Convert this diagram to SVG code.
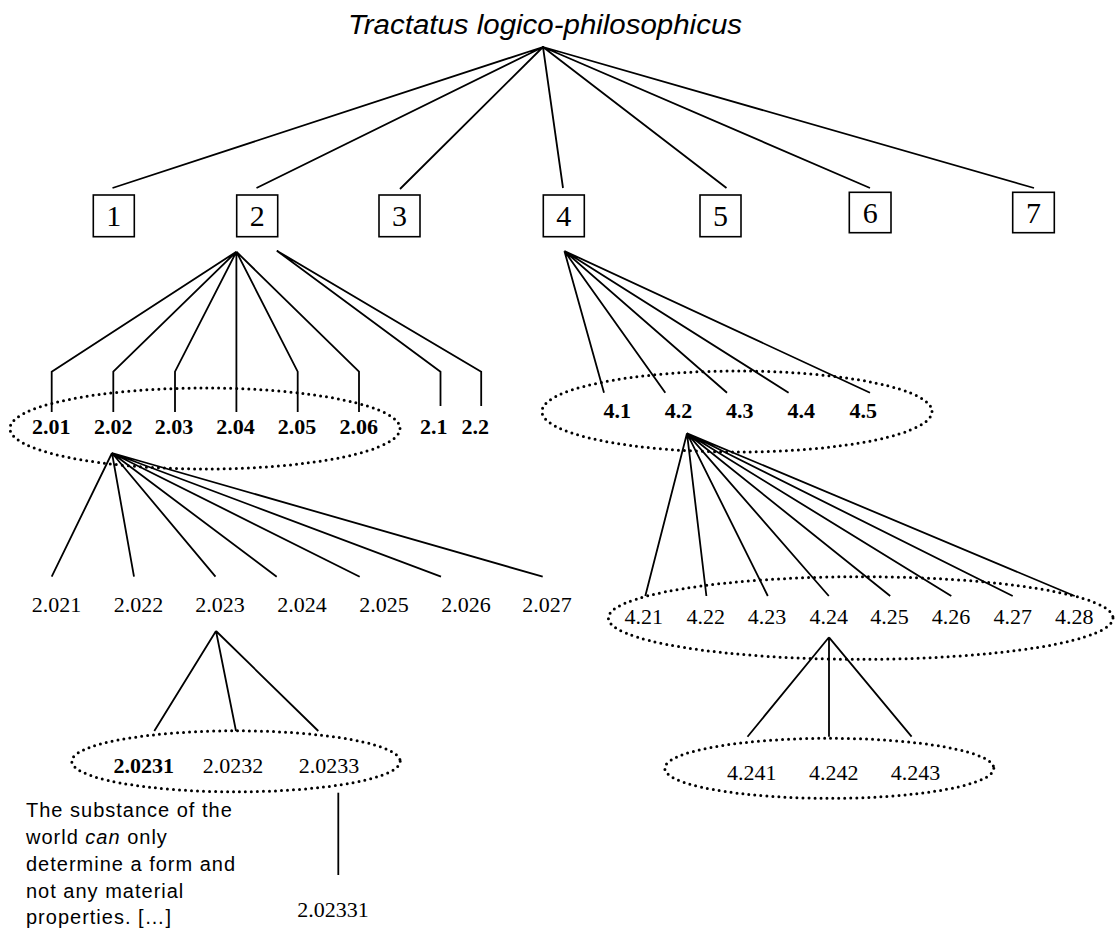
<svg xmlns="http://www.w3.org/2000/svg" width="1116" height="928" viewBox="0 0 1116 928">
<style>
.bg{fill:#fff}
.ln{stroke:#000;stroke-width:1.8;fill:none;stroke-linejoin:miter}
.box{fill:#fff;stroke:#000;stroke-width:1.6}
.dot{fill:none;stroke:#000;stroke-width:3;stroke-dasharray:0 6;stroke-linecap:round}
.t{font-family:"Liberation Serif","Times New Roman",serif;font-size:22px;fill:#000;text-anchor:middle}
.b{font-weight:bold}
.bx{font-family:"Liberation Serif","Times New Roman",serif;font-size:30px;fill:#000;text-anchor:middle}
.title{font-family:"Liberation Sans",Arial,sans-serif;font-style:italic;font-size:27px;fill:#000}
.p{font-family:"Liberation Sans",Arial,sans-serif;font-size:20px;letter-spacing:1px;fill:#000}
</style>
<rect class="bg" x="0" y="0" width="1116" height="928"/>

<g id="connectors">
  <path class="ln" d="M543 47 L112.5 188 M543 47 L256.5 188 M543 47 L400 189 M543 47 L563 188 M543 47 L726.5 188 M543 47 L870 188 M543 47 L1034 188"/>
  <path class="ln" d="M236.4 251.7 L51.7 371.7 L51.7 412 M236.4 251.7 L113.3 371.7 L113.3 412 M236.4 251.7 L175 371.7 L175 412 M236.4 251.7 L236.4 412 M236.4 251.7 L297.7 371.7 L297.7 412 M236.4 251.7 L359 371.7 L359 412"/>
  <path class="ln" d="M276.8 250.7 L440.5 371.7 L440.5 406 M276.8 250.7 L481.2 371.7 L481.2 406"/>
  <path class="ln" d="M564.4 251 L604 392.7 M564.4 251 L665.3 392.7 M564.4 251 L727 392.7 M564.4 251 L788.6 392.7 M564.4 251 L870 392.7"/>
  <path class="ln" d="M112 453 L51.7 576.7 M112 453 L134 576.7 M112 453 L215.5 576.7 M112 453 L276.7 576.7 M112 453 L359.7 576.7 M112 453 L441 576.7 M112 453 L542.7 576.7"/>
  <path class="ln" d="M216 631 L154.3 731 M216 631 L236 731 M216 631 L318.3 731"/>
  <path class="ln" d="M338.3 792.7 L338.3 875"/>
  <path class="ln" d="M687 433.3 L645.3 596 M687 433.3 L706.4 596 M687 433.3 L767.8 596 M687 433.3 L828.8 596 M687 433.3 L890.2 596 M687 433.3 L951.3 596 M687 433.3 L1012.7 596 M687 433.3 L1074.7 596"/>
  <path class="ln" d="M829 637.3 L747.5 736.7 M829 637.3 L829 736.7 M829 637.3 L911.6 736.7"/>
</g>

<g id="title"><text class="title" x="348" y="34" textLength="394" lengthAdjust="spacingAndGlyphs">Tractatus logico-philosophicus</text></g>

<g id="n1"><rect class="box" x="93.3" y="195" width="41" height="41.7"/><text class="bx" x="113.8" y="226">1</text></g>
<g id="n2"><rect class="box" x="236.7" y="195" width="41" height="41.7"/><text class="bx" x="257.2" y="226">2</text></g>
<g id="n3"><rect class="box" x="379" y="195" width="41" height="41.7"/><text class="bx" x="399.5" y="226">3</text></g>
<g id="n4"><rect class="box" x="543.3" y="195" width="41" height="41.7"/><text class="bx" x="563.8" y="226">4</text></g>
<g id="n5"><rect class="box" x="700" y="195" width="41" height="41.7"/><text class="bx" x="720.5" y="226">5</text></g>
<g id="n6"><rect class="box" x="849.3" y="192.3" width="41.7" height="40.4"/><text class="bx" x="870.2" y="223">6</text></g>
<g id="n7"><rect class="box" x="1012.7" y="192.3" width="41.6" height="40.4"/><text class="bx" x="1033.5" y="223">7</text></g>

<g id="g2-0x">
  <ellipse class="dot" cx="205" cy="428.5" rx="195" ry="40.5"/>
  <text class="t b" x="51.3" y="433.5">2.01</text>
  <text class="t b" x="113.3" y="433.5">2.02</text>
  <text class="t b" x="174" y="433.5">2.03</text>
  <text class="t b" x="235.5" y="433.5">2.04</text>
  <text class="t b" x="297" y="433.5">2.05</text>
  <text class="t b" x="358.7" y="433.5">2.06</text>
</g>
<g id="n2-1"><text class="t b" x="433.7" y="433.5">2.1</text></g>
<g id="n2-2"><text class="t b" x="475.3" y="433.5">2.2</text></g>

<g id="g4-x">
  <ellipse class="dot" cx="737" cy="411.5" rx="195" ry="40.5"/>
  <text class="t b" x="617.3" y="418.3">4.1</text>
  <text class="t b" x="678.5" y="418.3">4.2</text>
  <text class="t b" x="739.8" y="418.3">4.3</text>
  <text class="t b" x="801.3" y="418.3">4.4</text>
  <text class="t b" x="863.2" y="418.3">4.5</text>
</g>

<g id="g2-02x">
  <text class="t" x="56.6" y="611.7">2.021</text>
  <text class="t" x="138.5" y="611.7">2.022</text>
  <text class="t" x="220" y="611.7">2.023</text>
  <text class="t" x="302" y="611.7">2.024</text>
  <text class="t" x="384" y="611.7">2.025</text>
  <text class="t" x="466" y="611.7">2.026</text>
  <text class="t" x="547" y="611.7">2.027</text>
</g>

<g id="g2-023x">
  <ellipse class="dot" cx="236" cy="761.3" rx="164.2" ry="30.5"/>
  <text class="t b" x="143.7" y="773.3">2.0231</text>
  <text class="t" x="233" y="773.3">2.0232</text>
  <text class="t" x="329" y="773.3">2.0233</text>
</g>

<g id="note-2-0231">
  <text class="p" x="26" y="816.7">The substance of the</text>
  <text class="p" x="26" y="844">world <tspan font-style="italic">can</tspan> only</text>
  <text class="p" x="26" y="870.7">determine a form and</text>
  <text class="p" x="26" y="897.7">not any material</text>
  <text class="p" x="26" y="924">properties. […]</text>
</g>

<g id="n2-02331"><text class="t" x="333" y="916.7">2.02331</text></g>

<g id="g4-2x">
  <ellipse class="dot" cx="860.7" cy="618" rx="252.3" ry="41.3"/>
  <text class="t" x="643.7" y="624">4.21</text>
  <text class="t" x="705.7" y="624">4.22</text>
  <text class="t" x="767" y="624">4.23</text>
  <text class="t" x="828.7" y="624">4.24</text>
  <text class="t" x="889.6" y="624">4.25</text>
  <text class="t" x="951.1" y="624">4.26</text>
  <text class="t" x="1012.7" y="624">4.27</text>
  <text class="t" x="1074.2" y="624">4.28</text>
</g>

<g id="g4-24x">
  <ellipse class="dot" cx="829.3" cy="768.3" rx="164.5" ry="30"/>
  <text class="t" x="751.8" y="780">4.241</text>
  <text class="t" x="833.8" y="780">4.242</text>
  <text class="t" x="915.4" y="780">4.243</text>
</g>
</svg>
